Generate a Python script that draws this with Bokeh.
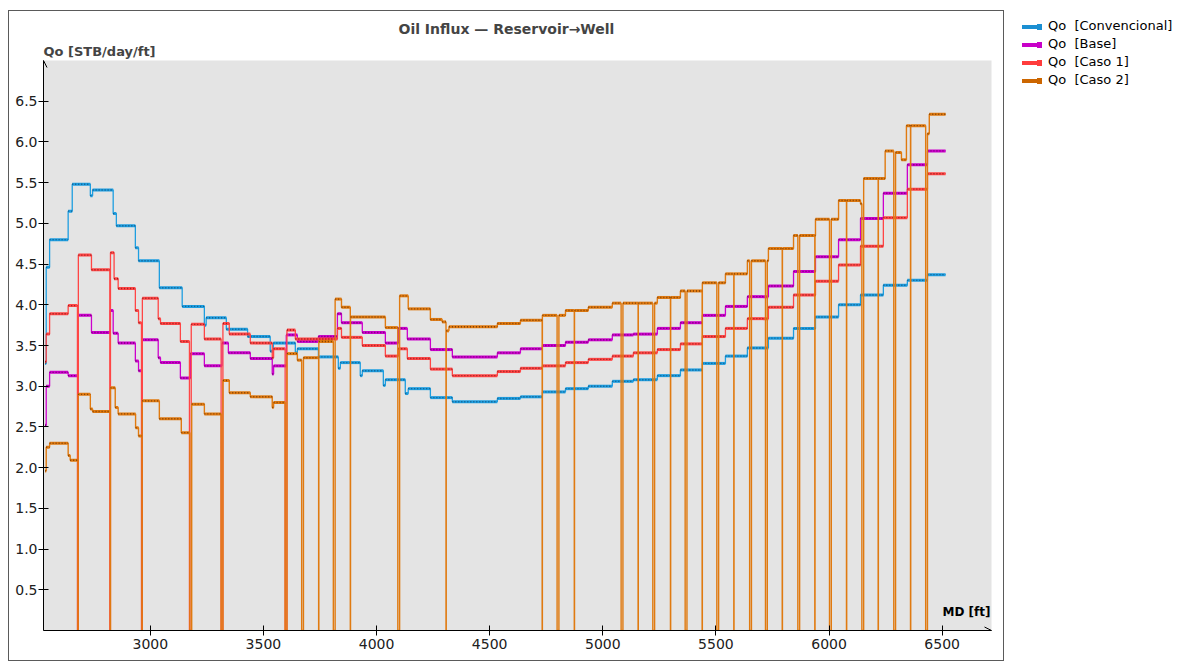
from bokeh.plotting import figure
from bokeh.models import (Range1d, FixedTicker, PrintfTickFormatter, Title, Label,
                          Arrow, OpenHead, Div)
from bokeh.layouts import row
from bokeh.embed import file_html
from bokeh.resources import INLINE

FONT = "DejaVu Sans"

# ---------------- data ----------------
x_ticks = [3000, 3500, 4000, 4500, 5000, 5500, 6000, 6500]
y_ticks = [0.5, 1.0, 1.5, 2.0, 2.5, 3.0, 3.5, 4.0, 4.5, 5.0, 5.5, 6.0, 6.5]

series_names = ["Qo  [Convencional]", "Qo  [Base]", "Qo  [Caso 1]", "Qo  [Caso 2]"]

md_conv = [2535, 2540, 2555, 2637, 2655, 2735, 2745, 2836, 2850, 2934, 2948, 3040, 3141,
           3239, 3247, 3336, 3430, 3530, 3544, 3641, 3650, 3743, 3831, 3840, 3928, 3937,
           4030, 4039, 4127, 4140, 4238, 4335, 4534, 4636, 4733, 4835, 4936, 5042, 5135,
           5241, 5343, 5440, 5542, 5639, 5732, 5843, 5940, 6042, 6139, 6240, 6346, 6435, 6515]
qo_conv = [3.28, 4.46, 4.80, 5.15, 5.48, 5.34, 5.41, 5.12, 4.97, 4.70, 4.54, 4.21, 3.98,
           3.75, 3.84, 3.70, 3.61, 3.43, 3.53, 3.41, 3.46, 3.36, 3.22, 3.29, 3.13, 3.19,
           3.01, 3.08, 2.91, 2.97, 2.86, 2.81, 2.85, 2.87, 2.93, 2.97, 3.00, 3.06, 3.08,
           3.13, 3.20, 3.28, 3.37, 3.47, 3.59, 3.71, 3.85, 4.00, 4.12, 4.24, 4.30, 4.37, 4.37]

md_base = [2535, 2540, 2555, 2637, 2682, 2740, 2823, 2836, 2858, 2934, 2948, 2965, 3035,
           3045, 3133, 3177, 3239, 3317, 3345, 3442, 3539, 3545, 3601, 3650, 3743, 3827,
           3845, 3937, 4039, 4096, 4136, 4238, 4335, 4534, 4636, 4733, 4835, 4936, 5042,
           5135, 5241, 5343, 5440, 5542, 5639, 5732, 5843, 5940, 6042, 6139, 6240, 6346,
           6435, 6515]
qo_base = [2.52, 3.00, 3.17, 3.13, 3.87, 3.66, 3.93, 3.65, 3.53, 3.31, 3.19, 3.57, 3.35,
           3.29, 3.10, 3.40, 3.25, 3.53, 3.41, 3.34, 3.15, 3.25, 3.63, 3.55, 3.61, 3.89,
           3.78, 3.66, 3.53, 3.71, 3.58, 3.45, 3.36, 3.41, 3.46, 3.50, 3.54, 3.57, 3.63,
           3.64, 3.71, 3.78, 3.87, 3.98, 4.10, 4.23, 4.41, 4.59, 4.80, 5.06, 5.37, 5.72,
           5.89, 5.89]

md_caso1 = [2535, 2540, 2555, 2637, 2678, 2682, 2740, 2821, 2824, 2840, 2858, 2934, 2948,
            2961, 2965, 3035, 3045, 3133, 3173, 3181, 3239, 3313, 3321, 3349, 3442, 3539,
            3545, 3596, 3604, 3641, 3827, 3845, 3937, 4039, 4096, 4136, 4238, 4335, 4534,
            4636, 4733, 4835, 4936, 5042, 5135, 5241, 5343, 5440, 5542, 5639, 5732, 5843,
            5940, 6042, 6139, 6240, 6346, 6435, 6515]
qo_caso1 = [3.30, 3.64, 3.89, 3.99, 0.0, 4.61, 4.43, 0.0, 4.64, 4.32, 4.20, 3.93, 3.78,
            0.0, 4.08, 3.83, 3.77, 3.55, 0.0, 3.76, 3.58, 0.0, 3.77, 3.64, 3.53, 3.35,
            3.46, 0.0, 3.69, 3.58, 3.71, 3.60, 3.50, 3.37, 3.46, 3.34, 3.21, 3.13, 3.18,
            3.22, 3.25, 3.29, 3.33, 3.37, 3.41, 3.45, 3.52, 3.61, 3.71, 3.83, 3.97, 4.12,
            4.29, 4.49, 4.72, 5.07, 5.42, 5.61, 5.61]

md_caso2 = [2535, 2540, 2555, 2637, 2646, 2680, 2681, 2735, 2745, 2823, 2824, 2845, 2858,
            2935, 2948, 2963, 2964, 3040, 3137, 3175, 3183, 3239, 3313, 3321, 3349, 3442,
            3539, 3545, 3596, 3604, 3650, 3669, 3677, 3744, 3745, 3809, 3817, 3845, 3884,
            3885, 4039, 4094, 4102, 4140, 4238, 4290, 4307, 4308, 4320, 4534, 4636, 4732,
            4733, 4798, 4806, 4835, 4874, 4875, 4936, 5042, 5081, 5089, 5156, 5157, 5221,
            5229, 5241, 5299, 5300, 5343, 5364, 5372, 5439, 5440, 5504, 5512, 5542, 5579,
            5580, 5639, 5649, 5657, 5719, 5727, 5732, 5793, 5794, 5843, 5862, 5870, 5937,
            5938, 5940, 6002, 6010, 6042, 6077, 6078, 6139, 6145, 6153, 6217, 6218, 6248,
            6286, 6294, 6320, 6342, 6360, 6361, 6427, 6435, 6443, 6515]
qo_caso2 = [1.96, 2.25, 2.30, 2.15, 2.09, 0.0, 2.90, 2.72, 2.69, 0.0, 2.98, 2.74, 2.66,
            2.49, 2.39, 0.0, 2.82, 2.60, 2.43, 0.0, 2.78, 2.66, 0.0, 3.07, 2.92, 2.87,
            2.74, 2.80, 0.0, 3.40, 3.32, 0.0, 3.35, 0.0, 3.55, 0.0, 4.07, 3.97, 0.0,
            3.85, 3.72, 0.0, 4.11, 3.95, 3.82, 3.79, 0.0, 3.68, 3.73, 3.77, 3.81, 0.0,
            3.87, 0.0, 3.87, 3.93, 0.0, 3.93, 3.97, 4.02, 0.0, 4.02, 0.0, 4.02, 0.0,
            4.02, 4.09, 0.0, 4.09, 4.17, 0.0, 4.17, 0.0, 4.27, 0.0, 4.27, 4.38, 0.0,
            4.38, 4.54, 0.0, 4.54, 0.0, 4.54, 4.69, 0.0, 4.69, 4.85, 0.0, 4.85, 0.0,
            4.85, 5.05, 0.0, 5.05, 5.28, 0.0, 5.28, 5.24, 0.0, 5.55, 0.0, 5.55, 5.89,
            0.0, 5.87, 5.78, 6.20, 0.0, 6.20, 0.0, 6.10, 6.34, 6.34]

# ---------------- styles ----------------
line_colors = ["#1e9ee0", "#cc00cc", "#ff4545", "#e07a10"]
dot_colors = ["#0d3f66", "#4a004a", "#6a1010", "#5a2a00"]
legend_colors = ["#1b8fd2", "#c800c8", "#ff3c3c", "#cc6600"]
step_widths = [1.3, 1.3, 1.3, 1.4]

W, H = 996, 651
p = figure(width=W, height=H, x_range=Range1d(2528, 6718), y_range=Range1d(0, 7.0),
           output_backend="svg", toolbar_location=None, title=None,
           min_border_left=34, min_border_right=14, min_border_top=49, min_border_bottom=32,
           background_fill_color="#e4e4e4", border_fill_color="white",
           outline_line_color=None)
p.styles = {"border": "1px solid #5a5a5a"}
p.grid.visible = False

for ax in (p.xaxis[0], p.yaxis[0]):
    ax.axis_line_color = "black"
    ax.axis_line_width = 1
    ax.major_tick_line_color = "black"
    ax.major_tick_in = 5
    ax.major_tick_out = 5
    ax.minor_tick_line_color = None
    ax.major_label_text_font = FONT
    ax.major_label_text_font_size = "14px"
    ax.major_label_text_color = "#202020"
p.xaxis.ticker = FixedTicker(ticks=x_ticks)
p.yaxis.ticker = FixedTicker(ticks=y_ticks)
p.yaxis.formatter = PrintfTickFormatter(format="%.1f")
p.xaxis.major_label_standoff = 3
p.yaxis.major_label_standoff = 1

all_md = [md_conv, md_base, md_caso1, md_caso2]
all_qo = [qo_conv, qo_base, qo_caso1, qo_caso2]

for md, qo, col, dcol, lw in zip(all_md, all_qo, line_colors, dot_colors, step_widths):
    p.step(md, qo, mode="after", line_color=col, line_width=lw)
    x0, x1, yy = [], [], []
    for i in range(len(md) - 1):
        if qo[i] > 0:
            x0.append(md[i]); x1.append(md[i + 1]); yy.append(qo[i])
    p.segment(x0, yy, x1, yy, line_color=col, line_width=3)
    p.segment(x0, yy, x1, yy, line_color=dcol, line_width=1.4, line_dash="1 2",
              line_alpha=0.75)

# axis arrows
p.add_layout(Arrow(end=OpenHead(size=7, line_width=1, line_color="black"),
                   x_start=p.x_range.start, y_start=0, x_end=p.x_range.start, y_end=7.0,
                   line_color="black", line_width=1))
p.add_layout(Arrow(end=OpenHead(size=7, line_width=1, line_color="black"),
                   x_start=p.x_range.start, y_start=0, x_end=p.x_range.end, y_end=0,
                   line_color="black", line_width=1))

p.add_layout(Label(x=p.x_range.end, y=0, x_offset=-1, y_offset=12, text="MD [ft]",
                   text_align="right", text_baseline="bottom", text_font=FONT,
                   text_font_size="12px", text_font_style="bold", text_color="black"))

p.add_layout(Title(text="Qo [STB/day/ft]", align="left", text_font=FONT,
                   text_font_size="13px", text_font_style="bold", standoff=4, offset=0),
             "above")
p.add_layout(Title(text="Oil Influx — Reservoir→Well", align="left", text_font=FONT,
                   text_font_size="14px", text_font_style="bold", standoff=6, offset=355),
             "above")

# legend (outside the chart frame, to the right)
rows_html = []
for name, col in zip(series_names, legend_colors):
    rows_html.append(
        '<div style="height:18px;line-height:18px;white-space:pre;">'
        f'<span style="display:inline-block;width:15px;height:4px;background:{col};'
        'vertical-align:middle;"></span>'
        f'<span style="display:inline-block;width:5px;height:6px;background:{col};'
        'vertical-align:middle;margin-right:6px;"></span>'
        f'{name}</div>')
legend_div = Div(text="".join(rows_html), width=165, height=80, margin=(7, 0, 0, 18),
                 styles={"font-family": FONT, "font-size": "13px", "color": "black"})

layout = row(p, legend_div, margin=(10, 0, 0, 8))
open("out.html", "w").write(file_html(layout, INLINE))
